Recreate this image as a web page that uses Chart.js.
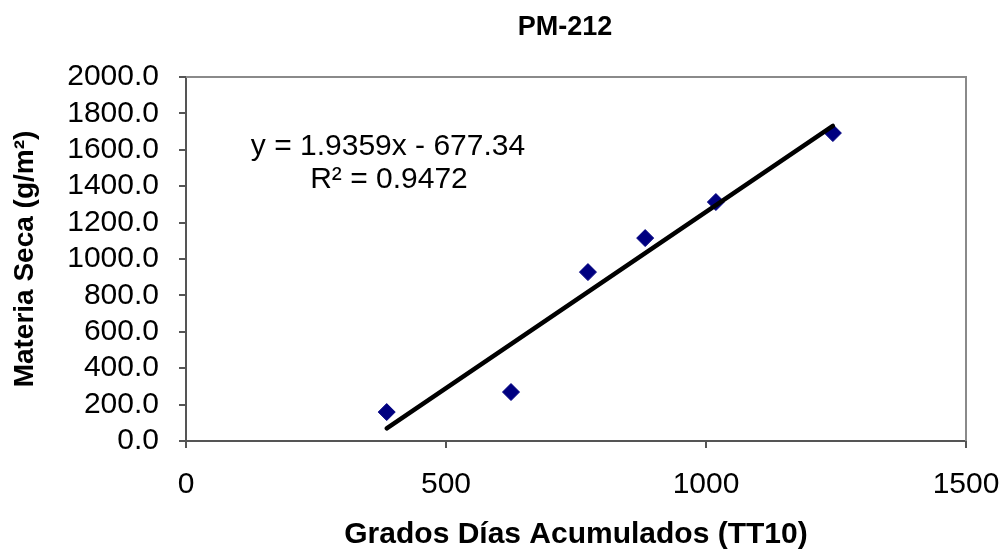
<!DOCTYPE html>
<html>
<head>
<meta charset="utf-8">
<script src="https://cdn.jsdelivr.net/npm/chart.js@4.4.1/dist/chart.umd.min.js"></script>
<style>
  html, body { margin: 0; padding: 0; background: #fff; }
  #wrap { width: 1003px; height: 550px; }
</style>
</head>
<body>
<div id="wrap"><canvas id="myChart" width="1003" height="550"></canvas></div>
<script>
// measured points (x = grados dias, y = materia seca)
const gradosDias = [386, 625, 773, 883, 1019, 1244];
const materiaSeca = [159, 269, 928, 1115, 1313, 1692];
// trendline as printed on the chart
const slope = 1.9359;
const intercept = -677.34;
const rSquared = 0.9472;

const chartTitle = 'PM-212';
const xTitle = 'Grados Días Acumulados (TT10)';
const yTitle = 'Materia Seca (g/m²)';

const FONT = "'Liberation Sans', Arial, sans-serif";

const points = gradosDias.map((x, i) => ({ x: x, y: materiaSeca[i] }));
const xMin = Math.min.apply(null, gradosDias);
const xMax = Math.max.apply(null, gradosDias);
const trend = [
    { x: xMin, y: slope * xMin + intercept },
    { x: xMax, y: slope * xMax + intercept }
];

// title, equation text and grey frame on top / right
const extras = {
    id: 'extras',
    beforeDatasetsDraw: function(chart) {
        const a = chart.chartArea;
        const ctx = chart.ctx;
        ctx.save();
        ctx.strokeStyle = '#8a8a8a';
        ctx.lineWidth = 2;
        ctx.beginPath();
        ctx.moveTo(a.left, a.top);
        ctx.lineTo(a.right, a.top);
        ctx.lineTo(a.right, a.bottom);
        ctx.stroke();
        ctx.restore();
    },
    afterDraw: function(chart) {
        const ctx = chart.ctx;
        ctx.save();
        ctx.fillStyle = '#000';
        ctx.textAlign = 'center';
        ctx.textBaseline = 'middle';
        ctx.font = 'bold 27px ' + FONT;
        ctx.fillText(chartTitle, 565, 28);
        ctx.font = '30px ' + FONT;
        const sign = intercept < 0 ? ' - ' : ' + ';
        ctx.fillText('y = ' + slope.toFixed(4) + 'x' + sign + Math.abs(intercept).toFixed(2), 388, 147);
        ctx.fillText('R² = ' + rSquared.toFixed(4), 389, 180);
        ctx.restore();
    }
};

const ctx = document.getElementById('myChart');
const myChart = new Chart(ctx, {
    type: 'scatter',
    data: {
        datasets: [{
            label: 'Materia seca',
            data: points,
            pointStyle: 'rectRot',
            pointRadius: 8.5,
            pointHoverRadius: 8.5,
            backgroundColor: '#000080',
            borderColor: '#000080',
            borderWidth: 1,
            order: 2
        }, {
            label: 'Lineal',
            type: 'line',
            data: trend,
            borderColor: '#000',
            borderWidth: 4.5,
            borderCapStyle: 'round',
            pointRadius: 0,
            fill: false,
            order: 1
        }]
    },
    options: {
        responsive: false,
        animation: false,
        events: [],
        layout: { padding: { left: 0, right: 37, top: 77, bottom: 0 } },
        plugins: {
            legend: { display: false },
            title: { display: false },
            tooltip: { enabled: false }
        },
        scales: {
            x: {
                type: 'linear',
                min: 0,
                max: 1500,
                afterFit: function(scale) {
                    scale.height = 109;
                    scale.paddingLeft = 0;
                    scale.paddingRight = 0;
                },
                ticks: {
                    stepSize: 500,
                    autoSkip: false,
                    maxRotation: 0,
                    color: '#000',
                    padding: 19,
                    font: { family: FONT, size: 30 },
                    callback: function(v) { return String(v); }
                },
                grid: {
                    display: true,
                    drawOnChartArea: false,
                    drawTicks: true,
                    tickLength: 7,
                    color: '#555',
                    lineWidth: 2
                },
                border: { display: true, color: '#555', width: 2 },
                title: {
                    display: true,
                    text: xTitle,
                    color: '#000',
                    padding: { top: 0, bottom: 0 },
                    font: { family: FONT, size: 30, weight: 'bold', lineHeight: 1 }
                }
            },
            y: {
                type: 'linear',
                min: 0,
                max: 2000,
                afterFit: function(scale) { scale.width = 186; },
                ticks: {
                    stepSize: 200,
                    autoSkip: false,
                    color: '#000',
                    padding: 20,
                    font: { family: FONT, size: 30, lineHeight: 1 },
                    callback: function(v) { return v.toFixed(1); }
                },
                grid: {
                    display: true,
                    drawOnChartArea: false,
                    drawTicks: true,
                    tickLength: 7,
                    color: '#555',
                    lineWidth: 2
                },
                border: { display: true, color: '#555', width: 2 },
                title: {
                    display: true,
                    text: yTitle,
                    color: '#000',
                    padding: { top: 11, bottom: 0 },
                    font: { family: FONT, size: 28, weight: 'bold', lineHeight: 1 }
                }
            }
        }
    },
    plugins: [extras]
});
</script>
</body>
</html>
